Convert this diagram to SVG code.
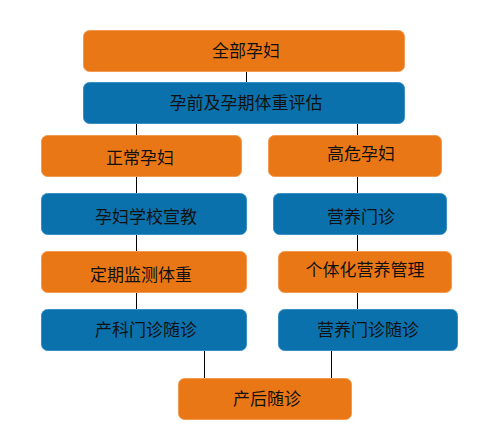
<svg xmlns="http://www.w3.org/2000/svg" width="488" height="443" viewBox="0 0 488 443">
<style>
.o{fill:#EA7716;stroke:#F29A52;stroke-width:1}
.b{fill:#0B71AD;stroke:#3A8FC4;stroke-width:1}
text{font-family:"Noto Sans CJK SC","Microsoft YaHei",sans-serif;font-size:17px;fill:#111;text-anchor:middle}
.c line{stroke:#000;stroke-width:1}
</style>
<rect width="488" height="443" fill="#fff"/>
<g class="c" id="connectors">
<line x1="246.5" y1="72" x2="246.5" y2="82"/>
<line x1="136.5" y1="124" x2="136.5" y2="135"/>
<line x1="357.5" y1="124" x2="357.5" y2="135"/>
<line x1="136.5" y1="177" x2="136.5" y2="193"/>
<line x1="357.5" y1="177" x2="357.5" y2="193"/>
<line x1="136.5" y1="235" x2="136.5" y2="251"/>
<line x1="357.5" y1="235" x2="357.5" y2="251"/>
<line x1="136.5" y1="293" x2="136.5" y2="309"/>
<line x1="357.5" y1="293" x2="357.5" y2="309"/>
<line x1="204.5" y1="351" x2="204.5" y2="378"/>
<line x1="331.5" y1="351" x2="331.5" y2="378"/>
</g>
<g id="n1"><rect class="o" x="83.5" y="30.5" width="321" height="41" rx="6"/><text x="246" y="57">全部孕妇</text></g>
<g id="n2"><rect class="b" x="83.5" y="82.5" width="321" height="41" rx="6"/><text x="246" y="109">孕前及孕期体重评估</text></g>
<g id="n3"><rect class="o" x="41.5" y="135.5" width="200" height="41" rx="6"/><text x="140" y="164">正常孕妇</text></g>
<g id="n4"><rect class="o" x="268.5" y="135.5" width="173" height="41" rx="6"/><text x="361" y="160">高危孕妇</text></g>
<g id="n5"><rect class="b" x="41.5" y="193.5" width="205" height="41" rx="6"/><text x="146" y="223">孕妇学校宣教</text></g>
<g id="n6"><rect class="b" x="273.5" y="193.5" width="173" height="41" rx="6"/><text x="361" y="223">营养门诊</text></g>
<g id="n7"><rect class="o" x="41.5" y="251.5" width="205" height="41" rx="6"/><text x="141" y="281">定期监测体重</text></g>
<g id="n8"><rect class="o" x="278.5" y="251.5" width="173" height="41" rx="6"/><text x="365" y="276">个体化营养管理</text></g>
<g id="n9"><rect class="b" x="41.5" y="309.5" width="205" height="41" rx="6"/><text x="146" y="336">产科门诊随诊</text></g>
<g id="n10"><rect class="b" x="278.5" y="309.5" width="179" height="41" rx="6"/><text x="368" y="336">营养门诊随诊</text></g>
<g id="n11"><rect class="o" x="178.5" y="378.5" width="173" height="41" rx="6"/><text x="267" y="405">产后随诊</text></g>
</svg>
